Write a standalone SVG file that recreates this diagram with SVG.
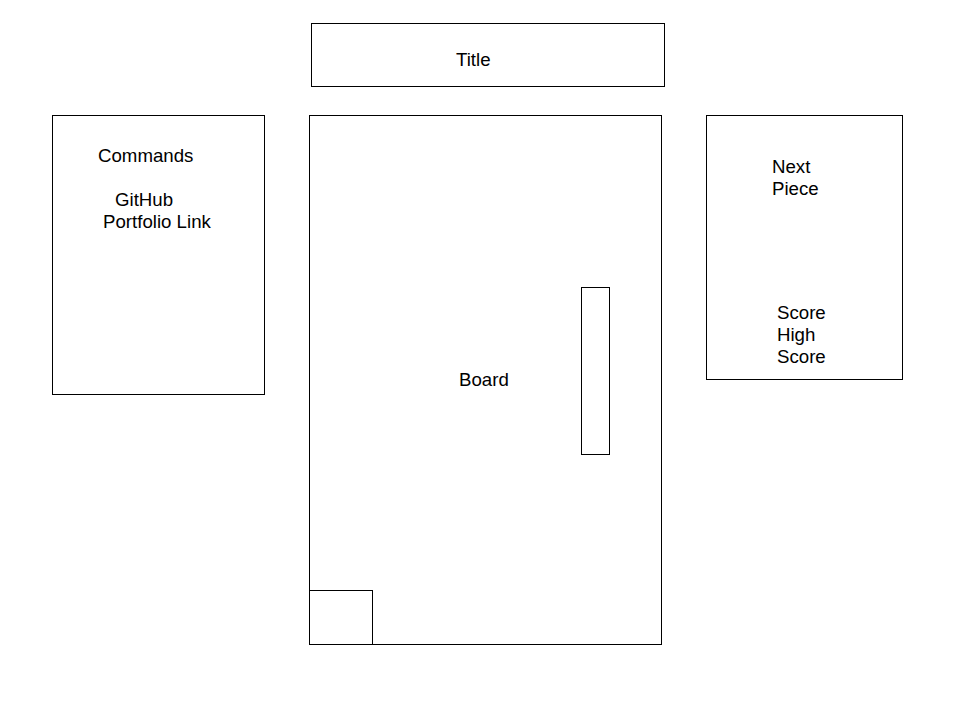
<svg xmlns="http://www.w3.org/2000/svg" width="960" height="720" viewBox="0 0 960 720">
<style>
rect.box{fill:#fff;stroke:#000;stroke-width:1}
text{font-family:"Liberation Sans",Arial,sans-serif;font-size:18.67px;fill:#000}
</style>
<rect width="960" height="720" fill="#fff"/>
<g id="title"><rect class="box" x="311.5" y="23.5" width="353" height="63"/><text x="456" y="66">Title</text></g>
<g id="commands"><rect class="box" x="52.5" y="115.5" width="212" height="279"/><text x="98" y="162">Commands</text><text x="115" y="206">GitHub</text><text x="103" y="228">Portfolio Link</text></g>
<g id="board"><rect class="box" x="309.5" y="115.5" width="352" height="529"/><text x="459" y="386">Board</text></g>
<g id="bar"><rect class="box" x="581.5" y="287.5" width="28" height="167"/></g>
<g id="square"><rect class="box" x="309.5" y="590.5" width="63" height="54"/></g>
<g id="info"><rect class="box" x="706.5" y="115.5" width="196" height="264"/><text x="772" y="173">Next</text><text x="772" y="195">Piece</text><text x="777" y="319">Score</text><text x="777" y="341">High</text><text x="777" y="363">Score</text></g>
<g id="connectors"></g>
</svg>
